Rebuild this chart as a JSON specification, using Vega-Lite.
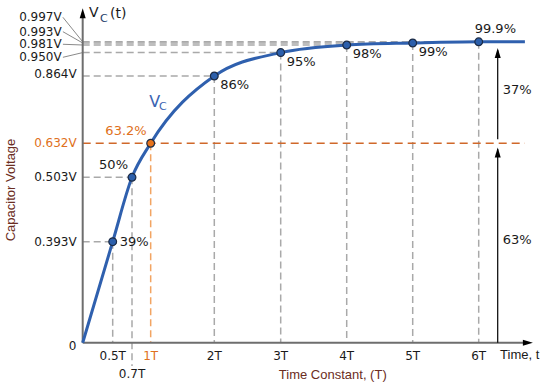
{
  "$schema": "https://vega.github.io/schema/vega-lite/v6.json",
  "width": 548,
  "height": 391,
  "autosize": {"type": "none"},
  "padding": 0,
  "background": "white",
  "config": {
    "view": {"stroke": null},
    "text": {"font": "DejaVu Sans", "fontSize": 12, "baseline": "middle", "color": "#1a1a1a"}
  },
  "datasets": {
    "pts": [
      {"t": 0.4545, "v": 0.3367, "lv": 0.3367, "pct": "39%", "vlab": "0.393V", "tlab": "0.5T"},
      {"t": 0.747, "v": 0.5513, "lv": 0.5513, "pct": "50%", "vlab": "0.503V", "tlab": "0.7T"},
      {"t": 1.03, "v": 0.6647, "lv": 0.6647, "pct": "63.2%", "vlab": "0.632V", "tlab": "1T"},
      {"t": 1.994, "v": 0.889, "lv": 0.894, "pct": "86%", "vlab": "0.864V", "tlab": "2T"},
      {"t": 3.0, "v": 0.967, "lv": 0.9513, "pct": "95%", "vlab": "0.950V", "tlab": "3T"},
      {"t": 4.0, "v": 0.9923, "lv": 0.9947, "pct": "98%", "vlab": "0.981V", "tlab": "4T"},
      {"t": 5.0, "v": 0.999, "lv": 1.0367, "pct": "99%", "vlab": "0.993V", "tlab": "5T"},
      {"t": 6.0, "v": 1.003, "lv": 1.0847, "pct": "99.9%", "vlab": "0.997V", "tlab": "6T"}
    ],
    "curve": [
      {"t": 0, "v": 0},
      {"t": 0.4545, "v": 0.3367},
      {"t": 0.747, "v": 0.5513},
      {"t": 1.03, "v": 0.6647},
      {"t": 1.994, "v": 0.889},
      {"t": 3.0, "v": 0.967},
      {"t": 4.0, "v": 0.9923},
      {"t": 5.0, "v": 0.999},
      {"t": 6.0, "v": 1.003},
      {"t": 6.7, "v": 1.003}
    ],
    "axes": [
      {"t": 0, "v": 0, "t2": 0, "v2": 1.1},
      {"t": 0, "v": 0, "t2": 6.72, "v2": 0}
    ],
    "ticks": [
      {"v": 0.1}, {"v": 0.2}, {"v": 0.3}, {"v": 0.4}, {"v": 0.5},
      {"v": 0.6}, {"v": 0.7}, {"v": 0.8}, {"v": 0.9}
    ],
    "shafts": [
      {"t": 6.288, "v": 0.678, "v2": 0.975},
      {"t": 6.288, "v": 0, "v2": 0.645}
    ],
    "heads": [
      {"t": 0, "v": 1.1147, "dir": "up"},
      {"t": 6.821, "v": 0, "dir": "right"},
      {"t": 6.288, "v": 0.982, "dir": "up"},
      {"t": 6.288, "v": 0.651, "dir": "up"}
    ],
    "ann": [
      {"k": "ytitle", "t": -1.086, "v": 0.509, "txt": "Capacitor Voltage"},
      {"k": "xtitle", "t": 3.789, "v": -0.1077, "txt": "Time Constant, (T)"},
      {"k": "time", "t": 6.324, "v": -0.0406, "txt": "Time, t"},
      {"k": "side", "t": 6.288, "v": 0.842, "txt": "37%"},
      {"k": "side", "t": 6.288, "v": 0.342, "txt": "63%"},
      {"k": "topbig", "t": 0.095, "v": 1.099, "txt": "V"},
      {"k": "topsub", "t": 0.262, "v": 1.079, "txt": "C"},
      {"k": "topbig", "t": 0.414, "v": 1.096, "txt": "(t)"},
      {"k": "vcbig", "t": 1.009, "v": 0.803, "txt": "V"},
      {"k": "vcsub", "t": 1.156, "v": 0.786, "txt": "C"},
      {"k": "zero", "t": -0.152, "v": -0.01, "txt": "0"}
    ]
  },
  "encoding": {
    "x": {"field": "t", "type": "quantitative", "scale": {"domain": [-1.253, 7.05], "nice": false, "zero": false}, "axis": null},
    "y": {"field": "v", "type": "quantitative", "scale": {"domain": [-0.161, 1.1423], "nice": false, "zero": false}, "axis": null}
  },
  "layer": [
    {
      "data": {"name": "pts"},
      "transform": [{"filter": "datum.tlab != '1T' && datum.tlab != '0.7T'"}],
      "mark": {"type": "rule", "color": "#a9a9a9", "strokeWidth": 1.5, "strokeDash": [7, 4]},
      "encoding": {"y2": {"datum": 0}}
    },
    {
      "data": {"name": "pts"},
      "transform": [{"filter": "datum.tlab == '0.7T'"}],
      "mark": {"type": "rule", "color": "#a9a9a9", "strokeWidth": 1.5, "strokeDash": [7, 4]},
      "encoding": {"y2": {"datum": -0.078}}
    },
    {
      "data": {"name": "pts"},
      "transform": [{"filter": "datum.tlab == '1T'"}],
      "mark": {"type": "rule", "color": "#f2a462", "strokeWidth": 1.5, "strokeDash": [7, 4]},
      "encoding": {"y2": {"datum": 0}}
    },
    {
      "data": {"name": "pts"},
      "transform": [{"filter": "datum.tlab != '1T'"}],
      "mark": {"type": "rule", "color": "#a9a9a9", "strokeWidth": 1.5, "strokeDash": [7, 4]},
      "encoding": {"x": {"datum": 0}, "x2": {"field": "t"}}
    },
    {
      "data": {"name": "pts"},
      "transform": [{"filter": "datum.tlab == '1T'"}],
      "mark": {"type": "rule", "color": "#d0682a", "strokeWidth": 1.5, "strokeDash": [8, 5]},
      "encoding": {"x": {"datum": 0}, "x2": {"datum": 6.7}}
    },
    {
      "data": {"name": "pts"},
      "transform": [{"filter": "datum.t >= 3"}],
      "mark": {"type": "rule", "color": "#8a8a8a", "strokeWidth": 1},
      "encoding": {"x": {"datum": -0.3}, "x2": {"datum": 0}, "y": {"field": "lv", "type": "quantitative"}, "y2": {"field": "v"}}
    },
    {
      "data": {"name": "axes"},
      "mark": {"type": "rule", "color": "#6e6e6e", "strokeWidth": 2},
      "encoding": {"x2": {"field": "t2"}, "y2": {"field": "v2"}}
    },
    {
      "data": {"name": "ticks"},
      "mark": {"type": "rule", "color": "#555555", "strokeWidth": 1.5},
      "encoding": {"x": {"datum": -0.03}, "x2": {"datum": 0.04}}
    },
    {
      "data": {"name": "shafts"},
      "mark": {"type": "rule", "color": "#000000", "strokeWidth": 1.2},
      "encoding": {"y2": {"field": "v2"}}
    },
    {
      "data": {"name": "heads"},
      "mark": {"type": "point", "filled": true, "opacity": 1, "color": "#000000", "size": 400},
      "encoding": {
        "shape": {"field": "dir", "type": "nominal", "legend": null,
          "scale": {"domain": ["up", "right"], "range": ["M0,0L0.3,1L-0.3,1Z", "M0,0L-1,-0.3L-1,0.3Z"]}}
      }
    },
    {
      "data": {"name": "curve"},
      "mark": {"type": "line", "interpolate": "monotone", "color": "#2f60ae", "strokeWidth": 3},
      "encoding": {}
    },
    {
      "data": {"name": "pts"},
      "mark": {"type": "point", "filled": false, "opacity": 1, "size": 60, "stroke": "#1c2b45", "strokeWidth": 1.2},
      "encoding": {
        "fill": {"condition": {"test": "datum.tlab == '1T'", "value": "#e8731a"}, "value": "#2c5fab"}
      }
    },
    {
      "data": {"name": "pts"},
      "transform": [{"filter": "datum.tlab == '0.5T'"}],
      "mark": {"type": "text", "align": "left", "dx": 7, "fontSize": 13},
      "encoding": {"text": {"field": "pct"}}
    },
    {
      "data": {"name": "pts"},
      "transform": [{"filter": "datum.tlab == '0.7T' || datum.tlab == '1T'"}],
      "mark": {"type": "text", "align": "right", "dx": -4, "dy": -12, "fontSize": 13},
      "encoding": {"text": {"field": "pct"}, "color": {"condition": {"test": "datum.tlab == '1T'", "value": "#e07020"}, "value": "#1a1a1a"}}
    },
    {
      "data": {"name": "pts"},
      "transform": [{"filter": "datum.t > 1.5 && datum.t < 5.5"}],
      "mark": {"type": "text", "align": "left", "dx": 6, "dy": 9, "fontSize": 13},
      "encoding": {"text": {"field": "pct"}}
    },
    {
      "data": {"name": "pts"},
      "transform": [{"filter": "datum.t > 5.5"}],
      "mark": {"type": "text", "align": "left", "dx": -4, "dy": -13, "fontSize": 13},
      "encoding": {"text": {"field": "pct"}}
    },
    {
      "data": {"name": "pts"},
      "transform": [{"filter": "datum.t < 2.5"}],
      "mark": {"type": "text", "align": "right", "dx": -6},
      "encoding": {"x": {"datum": 0}, "y": {"field": "lv", "type": "quantitative"}, "text": {"field": "vlab"},
        "color": {"condition": {"test": "datum.tlab == '1T'", "value": "#e07020"}, "value": "#1a1a1a"}}
    },
    {
      "data": {"name": "pts"},
      "transform": [{"filter": "datum.t >= 2.5"}],
      "mark": {"type": "text", "align": "right"},
      "encoding": {"x": {"datum": -0.318}, "y": {"field": "lv", "type": "quantitative"}, "text": {"field": "vlab"}}
    },
    {
      "data": {"name": "pts"},
      "transform": [{"filter": "datum.tlab != '0.7T'"}],
      "mark": {"type": "text", "align": "center"},
      "encoding": {"y": {"datum": -0.0443}, "text": {"field": "tlab"},
        "color": {"condition": {"test": "datum.tlab == '1T'", "value": "#e07020"}, "value": "#1a1a1a"}}
    },
    {
      "data": {"name": "pts"},
      "transform": [{"filter": "datum.tlab == '0.7T'"}],
      "mark": {"type": "text", "align": "center"},
      "encoding": {"y": {"datum": -0.1043}, "text": {"field": "tlab"}}
    },
    {
      "data": {"name": "ann"},
      "transform": [{"filter": "datum.k == 'ytitle'"}],
      "mark": {"type": "text", "align": "center", "angle": 270, "font": "Liberation Sans", "fontSize": 13, "color": "#6b2d22"},
      "encoding": {"text": {"field": "txt"}}
    },
    {
      "data": {"name": "ann"},
      "transform": [{"filter": "datum.k == 'xtitle'"}],
      "mark": {"type": "text", "align": "center", "font": "Liberation Sans", "fontSize": 13, "color": "#6b2d22"},
      "encoding": {"text": {"field": "txt"}}
    },
    {
      "data": {"name": "ann"},
      "transform": [{"filter": "datum.k == 'time'"}],
      "mark": {"type": "text", "align": "left", "font": "Liberation Sans", "fontSize": 13, "color": "#1a1a1a"},
      "encoding": {"text": {"field": "txt"}}
    },
    {
      "data": {"name": "ann"},
      "transform": [{"filter": "datum.k == 'side'"}],
      "mark": {"type": "text", "align": "left", "dx": 5, "fontSize": 13},
      "encoding": {"text": {"field": "txt"}}
    },
    {
      "data": {"name": "ann"},
      "transform": [{"filter": "datum.k == 'topbig'"}],
      "mark": {"type": "text", "align": "left", "fontSize": 14},
      "encoding": {"text": {"field": "txt"}}
    },
    {
      "data": {"name": "ann"},
      "transform": [{"filter": "datum.k == 'topsub'"}],
      "mark": {"type": "text", "align": "left", "fontSize": 11, "color": "#223c6a"},
      "encoding": {"text": {"field": "txt"}}
    },
    {
      "data": {"name": "ann"},
      "transform": [{"filter": "datum.k == 'vcbig'"}],
      "mark": {"type": "text", "align": "left", "fontSize": 16, "color": "#3a64b2"},
      "encoding": {"text": {"field": "txt"}}
    },
    {
      "data": {"name": "ann"},
      "transform": [{"filter": "datum.k == 'vcsub'"}],
      "mark": {"type": "text", "align": "left", "fontSize": 11, "color": "#3a64b2"},
      "encoding": {"text": {"field": "txt"}}
    },
    {
      "data": {"name": "ann"},
      "transform": [{"filter": "datum.k == 'zero'"}],
      "mark": {"type": "text", "align": "center", "fontSize": 12},
      "encoding": {"text": {"field": "txt"}}
    }
  ]
}
